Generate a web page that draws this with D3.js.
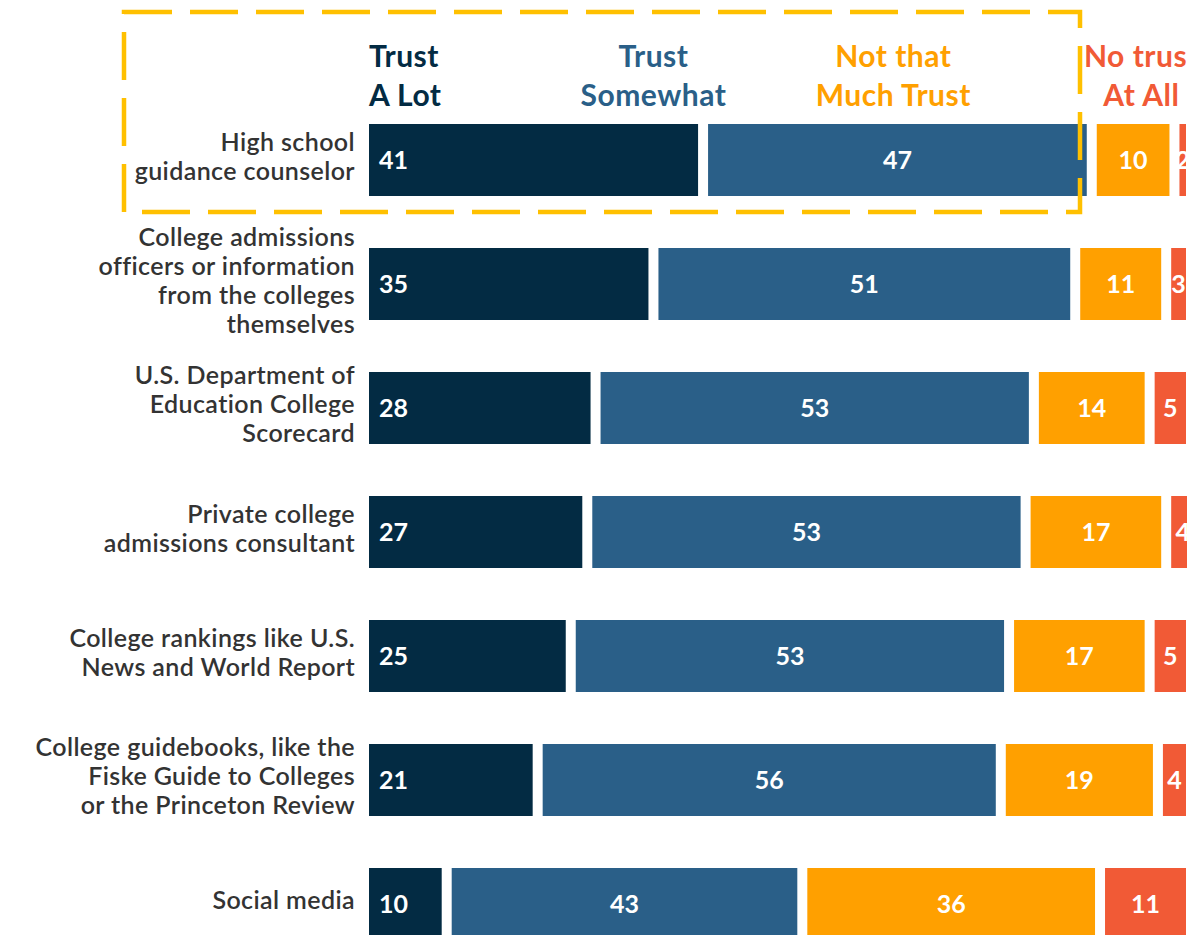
<!DOCTYPE html>
<html>
<head>
<meta charset="utf-8">
<script src="https://cdn.jsdelivr.net/npm/d3@7"></script>
<style>
  html, body { margin: 0; padding: 0; background: #fff; overflow: hidden; }
  svg { display: block; }
</style>
</head>
<body>
<svg id="chart" width="1187" height="935"></svg>
<script>
// ---- data ----
const categories = [
  "High school guidance counselor",
  "College admissions officers or information from the colleges themselves",
  "U.S. Department of Education College Scorecard",
  "Private college admissions consultant",
  "College rankings like U.S. News and World Report",
  "College guidebooks, like the Fiske Guide to Colleges or the Princeton Review",
  "Social media"
];
const categoryLines = [
  ["High school", "guidance counselor"],
  ["College admissions", "officers or information", "from the colleges", "themselves"],
  ["U.S. Department of", "Education College", "Scorecard"],
  ["Private college", "admissions consultant"],
  ["College rankings like U.S.", "News and World Report"],
  ["College guidebooks, like the", "Fiske Guide to Colleges", "or the Princeton Review"],
  ["Social media"]
];
const seriesNames = ["Trust A Lot", "Trust Somewhat", "Not that Much Trust", "No trust At All"];
const seriesHeaderLines = [["Trust", "A Lot"], ["Trust", "Somewhat"], ["Not that", "Much Trust"], ["No trust", "At All"]];
const trustALot      = [41, 35, 28, 27, 25, 21, 10];
const trustSomewhat  = [47, 51, 53, 53, 53, 56, 43];
const notThatMuch    = [10, 11, 14, 17, 17, 19, 36];
const noTrustAtAll   = [2, 3, 5, 4, 5, 4, 11];
const headerAt = [0, 35, 64, 94]; // header anchor, in percentage units

const colors = ["#032b43", "#2a5f88", "#ffa000", "#f15a36"];

// ---- layout ----
const svg = d3.select("#chart");
const x = d3.scaleLinear().domain([0, 100]).range([364, 1191]);
const step = 124, bandW = 72;
const y = d3.scaleBand().domain(categories)
  .range([124, 124 + step * (categories.length - 1) + bandW])
  .paddingInner((step - bandW) / step).paddingOuter(0).align(0);
const gap = 10;
const font = "Lato, 'Open Sans', sans-serif";

const seriesValues = [trustALot, trustSomewhat, notThatMuch, noTrustAtAll];
const rows = categories.map((c, i) => {
  let cum = 0;
  return seriesValues.map((vals, s) => {
    const v = vals[i];
    const seg = { cat: c, s, v, x0: cum, x1: cum + v };
    cum += v;
    return seg;
  });
});

const gBars = svg.append("g");
rows.forEach(row => {
  gBars.selectAll(null).data(row).enter().append("rect")
    .attr("x", d => x(d.x0) + gap / 2)
    .attr("y", d => y(d.cat))
    .attr("width", d => Math.max(0, x(d.x1) - x(d.x0) - gap))
    .attr("height", y.bandwidth())
    .attr("fill", d => colors[d.s]);

  gBars.selectAll(null).data(row).enter().append("text")
    .attr("x", d => d.s === 0 ? x(d.x0) + gap / 2 + 10 : (x(d.x0) + x(d.x1)) / 2)
    .attr("y", d => y(d.cat) + y.bandwidth() / 2)
    .attr("dy", "0.36em")
    .attr("text-anchor", d => d.s === 0 ? "start" : "middle")
    .attr("fill", "#fff")
    .attr("font-family", font)
    .attr("font-weight", 700)
    .attr("font-size", 25)
    .text(d => d.v);
});

// category labels
const lineH = 29;
const gLab = svg.append("g");
categories.forEach((c, i) => {
  const lines = categoryLines[i];
  const cy = y(c) + y.bandwidth() / 2 - 4;
  const t = gLab.append("text")
    .attr("text-anchor", "end")
    .attr("fill", "#333333")
    .attr("font-family", font)
    .attr("font-weight", 600)
    .attr("font-size", 25)
    .attr("letter-spacing", 0.4)
    .attr("y", cy - (lines.length - 1) / 2 * lineH);
  t.selectAll("tspan").data(lines).enter().append("tspan")
    .attr("x", 355)
    .attr("dy", (d, j) => j === 0 ? "0.36em" : lineH)
    .text(d => d);
});

// series headers
const gHead = svg.append("g");
seriesHeaderLines.forEach((lines, s) => {
  const t = gHead.append("text")
    .attr("text-anchor", s === 0 ? "start" : "middle")
    .attr("fill", colors[s])
    .attr("font-family", font)
    .attr("font-weight", 700)
    .attr("font-size", 30)
    .attr("letter-spacing", 0.5)
    .attr("y", 67);
  t.selectAll("tspan").data(lines).enter().append("tspan")
    .attr("x", s === 0 ? x(headerAt[s]) + gap / 2 : x(headerAt[s]))
    .attr("dy", (d, j) => j === 0 ? 0 : 39)
    .text(d => d);
});

// dashed highlight box
svg.append("rect")
  .attr("x", 124)
  .attr("y", 12)
  .attr("width", 1080 - 124)
  .attr("height", 212 - 12)
  .attr("fill", "none")
  .attr("stroke", "#ffc000")
  .attr("stroke-width", 4.5)
  .attr("stroke-dasharray", "48 18");
</script>
</body>
</html>
